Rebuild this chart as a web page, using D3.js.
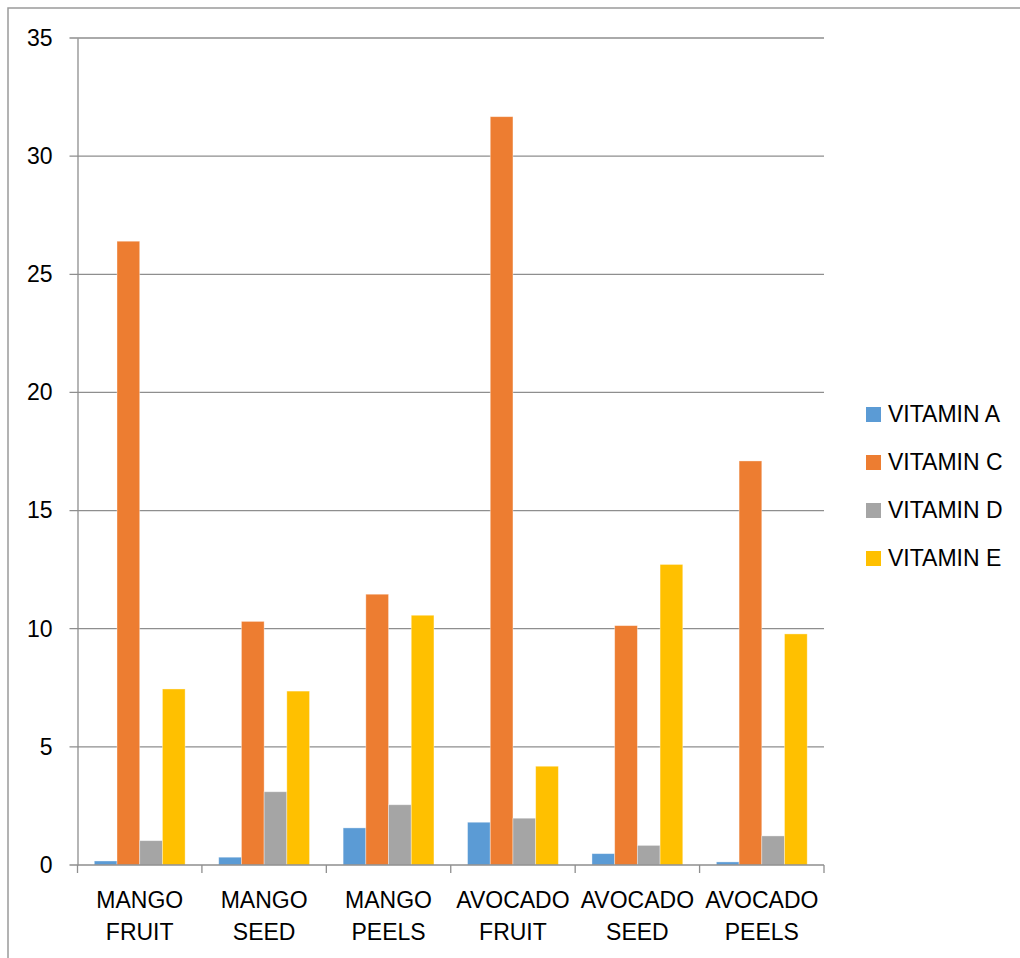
<!DOCTYPE html>
<html>
<head>
<meta charset="utf-8">
<script src="https://cdn.jsdelivr.net/npm/d3@7"></script>
<style>
  html, body { margin: 0; padding: 0; background: #fff; }
  svg { display: block; }
  text { font-family: "Liberation Sans", Arial, sans-serif; fill: #000; }
</style>
</head>
<body>
<svg id="chart" width="1020" height="958"></svg>
<script>
// Vitamin content of mango and avocado parts
const categories = [
  ["MANGO", "FRUIT"], ["MANGO", "SEED"], ["MANGO", "PEELS"],
  ["AVOCADO", "FRUIT"], ["AVOCADO", "SEED"], ["AVOCADO", "PEELS"]
];
const seriesNames = ["VITAMIN A", "VITAMIN C", "VITAMIN D", "VITAMIN E"];
const vitaminA = [0.17, 0.33, 1.57, 1.81, 0.48, 0.13];
const vitaminC = [26.4, 10.31, 11.46, 31.67, 10.13, 17.1];
const vitaminD = [1.03, 3.1, 2.55, 1.98, 0.83, 1.23];
const vitaminE = [7.45, 7.36, 10.57, 4.18, 12.72, 9.78];
const yTicks = [0, 5, 10, 15, 20, 25, 30, 35];
const colors = ["#5B9BD5", "#ED7D31", "#A5A5A5", "#FFC000"];

const seriesValues = [vitaminA, vitaminC, vitaminD, vitaminE];
const catKeys = categories.map(c => c.join(" "));

const svg = d3.select("#chart");
const plotLeft = 77.5, plotRight = 824, plotTop = 38, plotBottom = 865;
const fontSize = 23;
const gridColor = "#8e8e8e";

// outer frame
svg.append("rect")
  .attr("x", 8).attr("y", 8)
  .attr("width", 1040).attr("height", 1000)
  .attr("fill", "none")
  .attr("stroke", "#9a9a9a")
  .attr("stroke-width", 1.5);

const x = d3.scaleBand().domain(catKeys).range([plotLeft, plotRight]).paddingInner(0).paddingOuter(0);
const xInner = d3.scaleBand().domain(seriesNames).range([0, x.bandwidth()]).paddingInner(0).paddingOuter(0.74);
const y = d3.scaleLinear().domain([0, 35]).range([plotBottom, plotTop]);

// horizontal gridlines with left tick stubs
svg.append("g")
  .selectAll("line")
  .data(yTicks.filter(t => t > 0))
  .join("line")
  .attr("x1", plotLeft - 8).attr("x2", plotRight)
  .attr("y1", d => y(d)).attr("y2", d => y(d))
  .attr("stroke", gridColor).attr("stroke-width", 1.3);

// bars
const groups = svg.append("g")
  .selectAll("g")
  .data(seriesNames)
  .join("g")
  .attr("fill", (d, i) => colors[i]);

groups.selectAll("rect")
  .data((s, si) => catKeys.map((k, ci) => ({ key: k, series: s, value: seriesValues[si][ci] })))
  .join("rect")
  .attr("x", d => x(d.key) + xInner(d.series))
  .attr("width", xInner.bandwidth())
  .attr("y", d => y(d.value))
  .attr("height", d => y(0) - y(d.value))
  .attr("stroke", "#ffffff")
  .attr("stroke-opacity", 0.45)
  .attr("stroke-width", 0.8);

// y axis
const yAxis = d3.axisLeft(y).tickValues(yTicks).tickSize(0).tickPadding(25).tickFormat(d3.format("d"));
const yg = svg.append("g").attr("transform", `translate(${plotLeft},0)`).call(yAxis);
yg.select(".domain").attr("stroke", gridColor).attr("stroke-width", 1.3);
yg.selectAll("text")
  .style("font-family", '"Liberation Sans", Arial, sans-serif')
  .attr("font-size", fontSize).attr("fill", "#000");

// x axis baseline and category separators
svg.append("line")
  .attr("x1", plotLeft - 8).attr("x2", plotRight)
  .attr("y1", plotBottom).attr("y2", plotBottom)
  .attr("stroke", gridColor).attr("stroke-width", 1.3);

const boundaries = catKeys.map(k => x(k)).concat([x(catKeys[catKeys.length - 1]) + x.bandwidth()]);
svg.append("g")
  .selectAll("line")
  .data(boundaries)
  .join("line")
  .attr("x1", d => d).attr("x2", d => d)
  .attr("y1", plotBottom).attr("y2", plotBottom + 8)
  .attr("stroke", gridColor).attr("stroke-width", 1.3);

// category labels (two lines)
const labels = svg.append("g")
  .selectAll("text")
  .data(categories)
  .join("text")
  .attr("text-anchor", "middle")
  .attr("font-size", fontSize)
  .attr("transform", (d, i) => `translate(${x(catKeys[i]) + x.bandwidth() / 2},0)`);
labels.append("tspan").attr("x", 0).attr("y", 908).text(d => d[0]);
labels.append("tspan").attr("x", 0).attr("y", 940).text(d => d[1]);

// legend
const legend = svg.append("g")
  .selectAll("g")
  .data(seriesNames)
  .join("g")
  .attr("transform", (d, i) => `translate(866,${407 + i * 48})`);
legend.append("rect")
  .attr("width", 15).attr("height", 15)
  .attr("fill", (d, i) => colors[i]);
legend.append("text")
  .attr("x", 22).attr("y", 15)
  .attr("font-size", fontSize)
  .text(d => d);
</script>
</body>
</html>
